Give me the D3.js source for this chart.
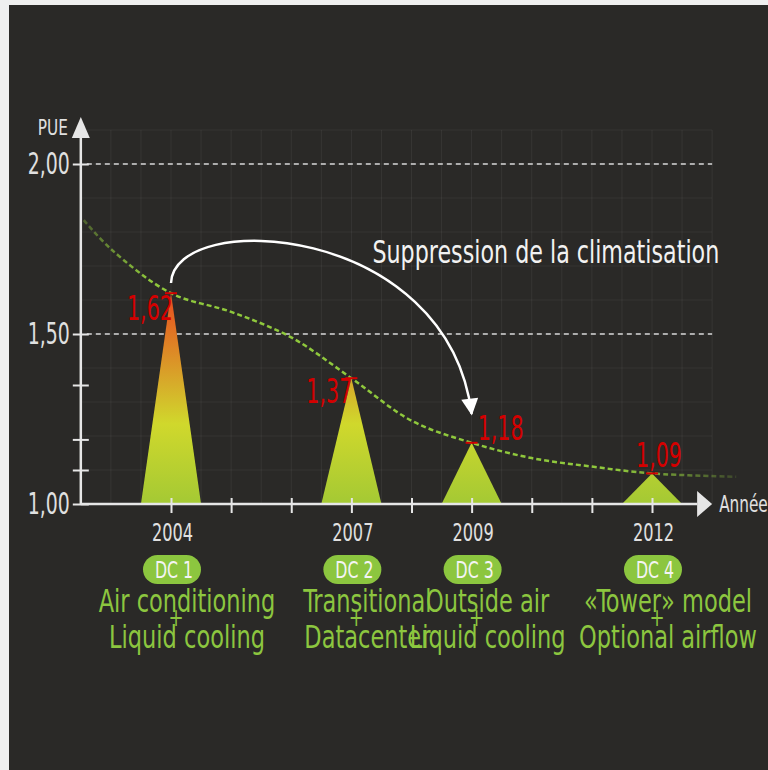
<!DOCTYPE html>
<meta charset="utf-8">
<script src="https://cdn.jsdelivr.net/npm/d3@7"></script>
<style>
  body{margin:0;background:#efefef;}
  text{font-family:"DejaVu Sans Condensed","DejaVu Sans",sans-serif;font-stretch:condensed;}
</style>
<body>
<div id="chart"></div>
<script>
// data
const years=[2004,2007,2009,2012];
const pue=[1.62,1.37,1.18,1.09];
const dcNames=["DC 1","DC 2","DC 3","DC 4"];
const dcLine1=["Air conditioning","Transitional","Outside air","\u00abTower\u00bb model"];
const dcLine2=["Liquid cooling","Datacenter","Liquid cooling","Optional airflow"];
const yearTicks=[2004,2005,2006,2007,2008,2009,2010,2011,2012];
const yearLabels=[2004,2007,2009,2012];
const pueTicks=[1.00,1.10,1.19,1.35,1.50,2.00];
const pueLabels=[1.00,1.50,2.00];
const trendYears=[2002.55,2003,2004,2005,2006,2007,2008,2009,2010,2011,2012,2013.4];
const trendPue=[1.835,1.75,1.62,1.565,1.49,1.37,1.245,1.18,1.135,1.11,1.09,1.08];

const W=768,H=770;
const svg=d3.select("#chart").append("svg")
    .attr("width",W).attr("height",H);
svg.append("rect").attr("x",9).attr("y",5).attr("width",W-9).attr("height",H-5).attr("fill","#2a2927");

const x=d3.scaleLinear().domain([2004,2012]).range([171,652]);
const y=d3.scaleLinear().domain([1,2]).range([504,164]);
const fmt=v=>d3.format(".2f")(v).replace(".",",");
const axisCol="#e6e6e6";

function txt(g,px,py,str,size,sy,anchor,fill){
    return g.append("text")
        .attr("transform",`translate(${px},${py}) scale(1,${sy})`)
        .attr("text-anchor",anchor).attr("font-size",size).attr("fill",fill).text(str);
}

const defs=svg.append("defs");
const grad=defs.append("linearGradient").attr("id","tri")
    .attr("gradientUnits","userSpaceOnUse")
    .attr("x1",0).attr("x2",0).attr("y1",y(1.62)).attr("y2",y(1));
[[0,"#ea4a1e"],[0.2,"#e07824"],[0.42,"#d7aa2a"],[0.62,"#d0d82c"],[1,"#a4c934"]]
    .forEach(s=>grad.append("stop").attr("offset",s[0]).attr("stop-color",s[1]));
const tg=defs.append("linearGradient").attr("id","trend")
    .attr("gradientUnits","userSpaceOnUse")
    .attr("x1",x(2002.55)).attr("x2",x(2013.4)).attr("y1",0).attr("y2",0);
[[0,0.35],[0.1,1],[0.82,1],[1,0.2]]
    .forEach(s=>tg.append("stop").attr("offset",s[0]).attr("stop-color","#8fc83c").attr("stop-opacity",s[1]));
defs.append("marker").attr("id","ah").attr("viewBox","0 0 10 10")
    .attr("refX",9).attr("refY",5).attr("markerWidth",21).attr("markerHeight",17)
    .attr("markerUnits","userSpaceOnUse").attr("orient","auto")
    .append("path").attr("d","M0,0L10,5L0,10z").attr("fill","#fff");

// faint grid
const grid=svg.append("g").attr("stroke","#fff").attr("stroke-opacity",0.06);
grid.selectAll("line.v").data(d3.range(2002.5,2013.01,0.5)).join("line")
    .attr("x1",d=>x(d)).attr("x2",d=>x(d)).attr("y1",y(2.1)).attr("y2",y(1));
grid.selectAll("line.h").data(d3.range(1.1,2.11,0.1)).join("line").attr("class","h")
    .attr("x1",x(2002.5)).attr("x2",x(2013)).attr("y1",d=>y(d)).attr("y2",d=>y(d));

// dashed reference lines
svg.selectAll("line.ref").data([1.5,2]).join("line").attr("class","ref")
    .attr("x1",x(2002.6)).attr("x2",x(2013)).attr("y1",d=>y(d)).attr("y2",d=>y(d))
    .attr("stroke","#d8d8d8").attr("stroke-width",1.5).attr("stroke-dasharray","5,4");

// triangles
svg.selectAll("path.tri").data(years).join("path").attr("class","tri")
    .attr("d",(d,i)=>`M${x(d-0.5)},${y(1)}L${x(d)},${y(pue[i])}L${x(d+0.5)},${y(1)}Z`)
    .attr("fill","url(#tri)");

// trend curve
const line=d3.line().x(d=>x(d[0])).y(d=>y(d[1])).curve(d3.curveCatmullRom.alpha(0.5));
svg.append("path").datum(trendYears.map((d,i)=>[d,trendPue[i]]))
    .attr("d",line).attr("fill","none").attr("stroke","url(#trend)")
    .attr("stroke-width",2.5).attr("stroke-dasharray","5,3");

// axes
const xAxis=svg.append("g").attr("transform",`translate(0,${y(1)})`)
    .call(d3.axisBottom(x).tickValues(yearTicks).tickSizeOuter(0)
        .tickFormat(d=>yearLabels.includes(d)?String(d):""));
xAxis.select(".domain").remove();
xAxis.selectAll(".tick line").attr("y1",-6).attr("y2",9).attr("stroke",axisCol).attr("stroke-width",2);
xAxis.selectAll(".tick text").attr("y",null).attr("dy",null)
    .attr("transform","translate(1,37) scale(1,1.33)")
    .attr("fill","#e0e0e0").attr("font-size",18).attr("font-family",null);

const yAxis=svg.append("g").attr("transform",`translate(${x(2002.5)},0)`)
    .call(d3.axisLeft(y).tickValues(pueTicks).tickSizeOuter(0)
        .tickFormat(d=>pueLabels.includes(d)?fmt(d):""));
yAxis.select(".domain").remove();
yAxis.selectAll(".tick line").attr("x1",-8).attr("x2",8).attr("stroke",axisCol).attr("stroke-width",2);
yAxis.selectAll(".tick text").attr("x",null).attr("dy",null)
    .attr("transform","translate(-11,9) scale(1,1.4)")
    .attr("fill","#e0e0e0").attr("font-size",21).attr("font-family",null);

const x0=x(2002.5),y0=y(1);
svg.append("line").attr("x1",x0).attr("x2",x(2012.75)).attr("y1",y0).attr("y2",y0)
    .attr("stroke",axisCol).attr("stroke-width",2.5);
svg.append("path").attr("d",`M${x(2012.75)},${y0-13}L${x(2013)},${y0}L${x(2012.75)},${y0+13}Z`).attr("fill",axisCol);
svg.append("line").attr("x1",x0).attr("x2",x0).attr("y1",y0).attr("y2",y(2.1)+8)
    .attr("stroke",axisCol).attr("stroke-width",2.5);
svg.append("path").attr("d",`M${x0-9},${y(2.1)+8}L${x0},${y(2.1)-13}L${x0+9},${y(2.1)+8}Z`).attr("fill",axisCol);
txt(svg,x0-13,y(2.1)+5,"PUE",17,1.25,"end","#e0e0e0");
txt(svg,x(2013)+7,y0+8,"Ann\u00e9e",17,1.4,"start","#e0e0e0");

// value markers and labels
const place=[["end",2,27],["end",1,25],["start",6,-3],["middle",7,-6]];
svg.selectAll("line.mk").data(years).join("line").attr("class","mk")
    .attr("x1",d=>x(d)-6).attr("x2",d=>x(d)+6)
    .attr("y1",(d,i)=>y(pue[i])).attr("y2",(d,i)=>y(pue[i]))
    .attr("stroke","#d40000").attr("stroke-width",2);
years.forEach((d,i)=>{
    txt(svg,x(d)+place[i][1],y(pue[i])+place[i][2],fmt(pue[i]),23,1.45,place[i][0],"#d40000");
});

// curved annotation arrow
const p=d3.path();
p.moveTo(x(2004),y(1.65));
p.bezierCurveTo(x(2004.05),y(1.87),x(2008.6),y(1.83),x(2009),y(1.265));
svg.append("path").attr("d",p.toString()).attr("fill","none")
    .attr("stroke","#fff").attr("stroke-width",2.5).attr("marker-end","url(#ah)");
txt(svg,x(2007.35),y(1.71),"Suppression de la climatisation",24.7,1.29,"start","#f2f2f2");

// DC labels
const lab=svg.append("g");
years.forEach((d,i)=>{
    lab.append("rect").attr("x",x(d)-28).attr("y",555).attr("width",58).attr("height",29)
        .attr("rx",14.5).attr("fill","#8cc63f");
    txt(lab,x(d)+3,578,dcNames[i],17.5,1.35,"middle","#f4f4f4");
    txt(lab,x(d)+16,612,dcLine1[i],25,1.29,"middle","#8cc63f");
    txt(lab,x(d)+16,648,dcLine2[i],25,1.29,"middle","#8cc63f");
    txt(lab,x(d)+5,626,"+",20,1.2,"middle","#8cc63f");
});
</script>
</body>
